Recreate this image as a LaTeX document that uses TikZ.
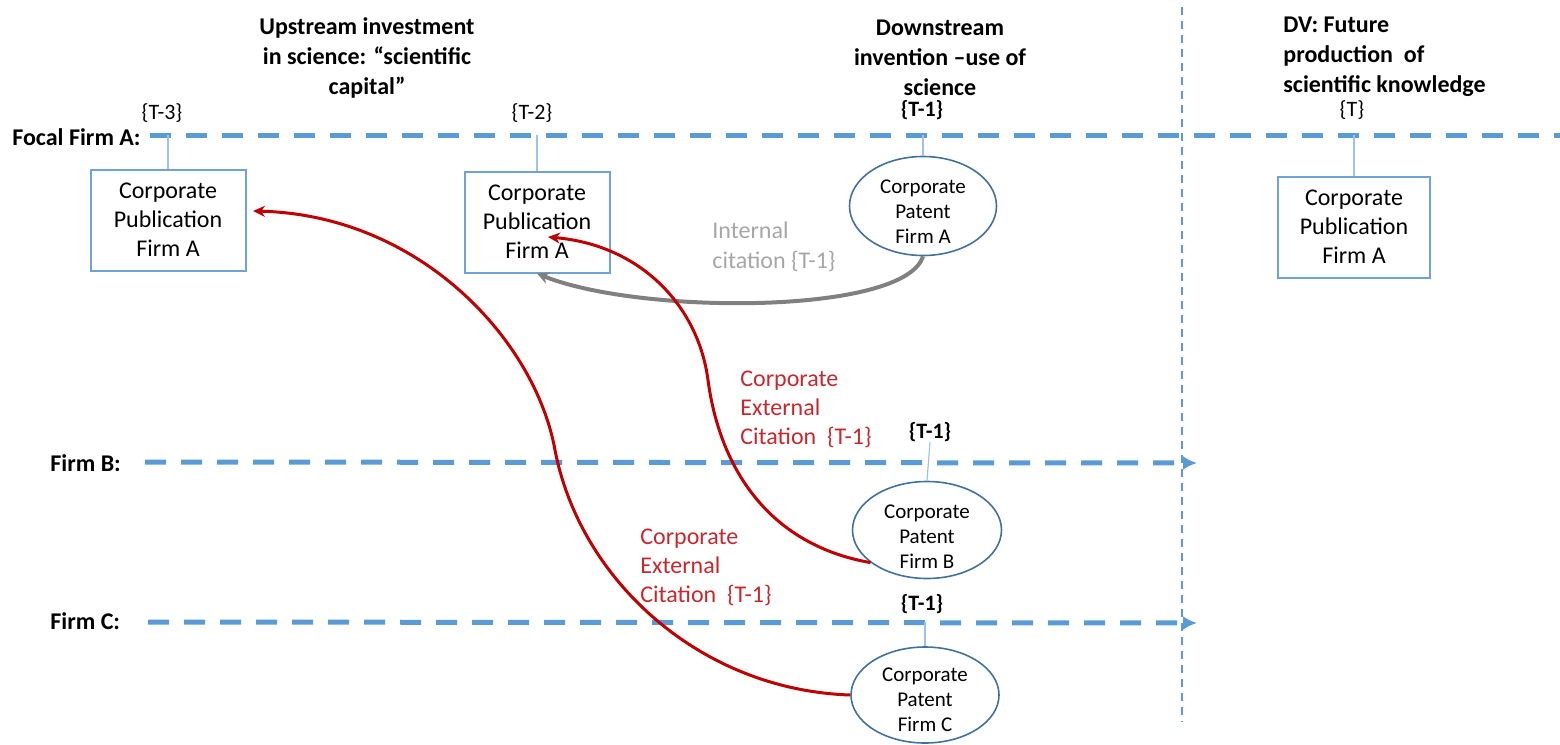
\documentclass[tikz,border=0pt]{standalone}
\usepackage{fontspec}
\setmainfont{Carlito}
\usetikzlibrary{arrows.meta,shapes.geometric,calc}
\definecolor{dashblue}{HTML}{5B9BD5}
\definecolor{boxblue}{HTML}{6FA3D8}
\definecolor{ellblue}{HTML}{41719C}
\definecolor{tickblue}{HTML}{9DC3E6}
\definecolor{citered}{HTML}{C00000}
\definecolor{redtext}{HTML}{C8282D}
\definecolor{grayarrow}{HTML}{808080}
\definecolor{graytext}{HTML}{A6A6A6}
\begin{document}
\begin{tikzpicture}[x=0.5pt,y=-0.5pt,
  title/.style={font=\fontsize{12}{15}\selectfont\bfseries, align=center, inner sep=0pt},
  firm/.style={font=\fontsize{12}{15}\selectfont\bfseries, inner sep=0pt},
  tlab/.style={font=\fontsize{11}{13}\selectfont, inner sep=0pt},
  tbold/.style={font=\fontsize{11}{13}\selectfont\bfseries, inner sep=0pt},
  pub/.style={draw=boxblue, line width=1pt, minimum height=50.5pt, align=center,
    inner sep=0pt, font=\fontsize{12}{14.5}\selectfont},
  pat/.style={ellipse, draw=ellblue, line width=0.8pt, inner sep=0pt},
  ptext/.style={align=center, inner sep=0pt, font=\fontsize{10.5}{12.5}\selectfont},
  lane/.style={draw=dashblue, line width=2.5pt, dash pattern=on 10.5pt off 7.5pt},
  lanearrow/.style={lane, -{Latex[length=7pt,width=7pt]}},
  vsep/.style={draw=dashblue, line width=0.8pt, dash pattern=on 4pt off 3pt},
  tick/.style={draw=tickblue, line width=0.6pt},
  redarrow/.style={draw=citered, line width=1.5pt, -{Stealth[length=6pt,width=5.5pt]}},
  grayarr/.style={draw=grayarrow, line width=2pt, -{Stealth[length=6pt,width=6pt]}},
  redlab/.style={text=redtext, align=left, inner sep=0pt, font=\fontsize{12}{14.5}\selectfont},
  graylab/.style={text=graytext, align=left, inner sep=0pt, font=\fontsize{12}{15}\selectfont}
]
\useasboundingbox (0,0) rectangle (1560,745);

% headings
\node[title] (h1) at (367,58) {Upstream investment\\in science: “scientific\\capital”};
\node[title] (h2) at (940,58) {Downstream\\invention –use of\\science};
\node[title, align=left, anchor=west] (h3) at (1283,57) {DV: Future\\production\ \ of\\scientific knowledge};

% firm labels
\node[firm, anchor=east] (lA) at (141,137) {Focal Firm A:};
\node[firm, anchor=west] (lB) at (50,463) {Firm B:};
\node[firm, anchor=west] (lC) at (50,621) {Firm C:};

% lane end points
\coordinate (aS) at (150,135);
\coordinate (aE) at (1560,135);
\coordinate (bS) at (145,462);
\coordinate (bE) at (1197,463);
\coordinate (cS) at (148,622);
\coordinate (cE) at (1197,623);
\coordinate (vT) at (1182,7);
\coordinate (vB) at (1182,722);

% vertical separator
\draw[vsep] (vT) -- (vB);

% lanes
\draw[lane] (aS) -- (aE);
\draw[lanearrow] (bS) -- (bE);
\draw[lanearrow] (cS) -- (cE);

% time labels
\node[tlab] (t3) at (162,113) {\{T-3\}};
\node[tlab] (t2) at (532,113) {\{T-2\}};
\node[tbold] (t1a) at (922,110) {\{T-1\}};
\node[tlab] (tT) at (1352,110) {\{T\}};
\node[tbold] (t1b) at (930,432) {\{T-1\}};
\node[tbold] (t1c) at (922,604) {\{T-1\}};

% publications
\node[pub, minimum width=77.5pt] (p1) at (168,220) {Corporate\\Publication\\Firm A};
\node[pub, minimum width=72.5pt] (p2) at (537,222) {Corporate\\Publication\\Firm A};
\node[pub, minimum width=76pt] (p3) at (1354,227) {Corporate\\Publication\\Firm A};

% patents
\node[pat, minimum width=73.5pt, minimum height=49.5pt,
  label={[ptext, yshift=-3pt]center:Corporate\\Patent\\Firm A}] (eA) at (923,206) {};
\node[pat, minimum width=74.5pt, minimum height=48.5pt,
  label={[ptext, yshift=-3.5pt]center:Corporate\\Patent\\Firm B}] (eB) at (927,530) {};
\node[pat, minimum width=74pt, minimum height=48pt,
  label={[ptext, yshift=-2.5pt]center:Corporate\\Patent\\Firm C}] (eC) at (925,695) {};

% ticks
\draw[tick] (p1.north) -- (p1.north |- aS);
\draw[tick] (p2.north) -- (p2.north |- aS);
\draw[tick] (p3.north) -- (p3.north |- aS);
\draw[tick] (eA.north) -- (eA.north |- aS);
\draw[tick] (eB.north) -- (t1b.south);
\draw[tick] (eC.north) -- (eC.north |- cS);

% citation labels
\node[graylab, anchor=west] (g1) at (712,247) {Internal\\citation \{T-1\}};
\node[redlab, anchor=west] (r1) at (740,409) {Corporate\\External\\Citation\ \ \{T-1\}};
\node[redlab, anchor=west] (r2) at (640,567) {Corporate\\External\\Citation\ \ \{T-1\}};

% arrow tips
\coordinate (tipP1) at (253,211);
\coordinate (tipP2) at (548,237);

% citations
\draw[grayarr] (eA.south) .. controls (905,315) and (640,315) .. (p2.south);
\draw[redarrow] (eB.210) .. controls (770,545) and (720,470) .. (708,380)
   .. controls (698,305) and (640,245) .. (tipP2);
\draw[redarrow] (eC.west) .. controls (700,690) and (580,580) .. (555,450)
   .. controls (535,340) and (420,215) .. (tipP1);
\end{tikzpicture}
\end{document}
